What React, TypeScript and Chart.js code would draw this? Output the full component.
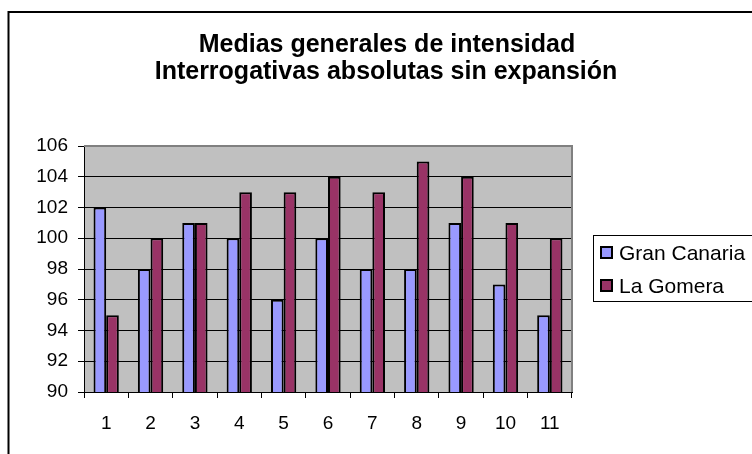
import React, { useEffect, useRef } from "react";
import { Chart, registerables } from "chart.js";

Chart.register(...registerables);

const categories = ["1", "2", "3", "4", "5", "6", "7", "8", "9", "10", "11"];
const granCanaria = [102, 98, 101, 100, 96, 100, 98, 98, 101, 97, 95];
const laGomera = [95, 100, 101, 103, 103, 104, 103, 105, 104, 101, 100];
const seriesLabels = ["Gran Canaria", "La Gomera"];
const titleLines = ["Medias generales de intensidad", "Interrogativas absolutas sin expansión"];
const yMin = 90;
const yMax = 106;
const yStep = 2;

const FONT = "'Liberation Sans', Arial, Helvetica, sans-serif";

const decor = {
  id: "decor",
  beforeDraw(chart: any) {
    const { ctx, chartArea: a } = chart;
    ctx.save();
    ctx.fillStyle = "#ffffff";
    ctx.fillRect(0, 0, chart.width, chart.height);
    ctx.fillStyle = "#C0C0C0";
    ctx.fillRect(a.left, a.top, a.right - a.left, a.bottom - a.top);
    ctx.strokeStyle = "#000";
    ctx.lineWidth = 2;
    ctx.strokeRect(8.5, 12, 900, 600);
    ctx.fillStyle = "#000";
    ctx.font = `bold 25px ${FONT}`;
    ctx.textAlign = "center";
    ctx.textBaseline = "alphabetic";
    ctx.fillText(titleLines[0], 387, 52);
    ctx.fillText(titleLines[1], 386, 79);
    ctx.restore();
  },
  beforeDatasetsDraw(chart: any) {
    const { ctx, chartArea: a } = chart;
    ctx.save();
    ctx.strokeStyle = "#808080";
    ctx.lineWidth = 2;
    ctx.beginPath();
    ctx.moveTo(a.left, a.top);
    ctx.lineTo(a.right, a.top);
    ctx.lineTo(a.right, a.bottom);
    ctx.stroke();
    ctx.restore();
  },
  afterDraw(chart: any) {
    const { ctx } = chart;
    ctx.save();
    ctx.strokeStyle = "#000";
    ctx.lineWidth = 1;
    ctx.strokeRect(593.5, 235.5, 300, 66);
    const rows = [259, 292];
    chart.data.datasets.forEach((ds: any, i: number) => {
      const base = rows[i];
      ctx.fillStyle = ds.backgroundColor;
      ctx.fillRect(601, base - 12, 11, 11);
      ctx.strokeStyle = "#000";
      ctx.lineWidth = 2;
      ctx.strokeRect(601, base - 12, 11, 11);
      ctx.fillStyle = "#000";
      ctx.font = `21px ${FONT}`;
      ctx.textAlign = "left";
      ctx.textBaseline = "alphabetic";
      ctx.fillText(ds.label, 619, base + 1);
    });
    ctx.restore();
  },
};

export default function App() {
  const ref = useRef<HTMLCanvasElement | null>(null);
  useEffect(() => {
    if (!ref.current) return;
    const chart = new Chart(ref.current, {
      type: "bar",
      data: {
        labels: categories,
        datasets: [
          {
            label: seriesLabels[0],
            data: granCanaria,
            backgroundColor: "#9999FF",
            borderColor: "#000000",
            borderWidth: 2,
            borderSkipped: false,
          },
          {
            label: seriesLabels[1],
            data: laGomera,
            backgroundColor: "#993366",
            borderColor: "#000000",
            borderWidth: 2,
            borderSkipped: false,
          },
        ],
      },
      options: {
        responsive: false,
        animation: false,
        events: [],
        layout: { padding: { top: 146, right: 180, bottom: 0, left: 0 } },
        datasets: { bar: { barPercentage: 1, categoryPercentage: 0.57 } },
        plugins: {
          legend: { display: false },
          title: { display: false },
          tooltip: { enabled: false },
        },
        scales: {
          x: {
            offset: true,
            grid: {
              offset: true,
              drawOnChartArea: false,
              drawTicks: true,
              tickLength: 6,
              tickColor: "#000",
              lineWidth: 1,
            },
            border: { display: true, color: "#000", width: 1 },
            ticks: {
              color: "#000",
              font: { family: FONT, size: 19 },
              padding: 14,
              maxRotation: 0,
            },
            afterFit: (s: any) => {
              s.height = 62;
            },
          },
          y: {
            min: yMin,
            max: yMax,
            ticks: {
              stepSize: yStep,
              color: "#000",
              font: { family: FONT, size: 19 },
              padding: 10,
            },
            grid: {
              color: (c: any) => (c.tick && c.tick.value === yMax ? "#808080" : "#000"),
              tickColor: "#000",
              tickLength: 6,
              lineWidth: 1,
            },
            border: { display: true, color: "#000", width: 1 },
            afterFit: (s: any) => {
              s.width = 84;
            },
          },
        },
      },
      plugins: [decor],
    });
    return () => chart.destroy();
  }, []);
  return (
    <div style={{ position: "absolute", left: 0, top: 0, width: 752, height: 454 }}>
      <canvas ref={ref} width={752} height={454} style={{ display: "block" }} />
    </div>
  );
}
